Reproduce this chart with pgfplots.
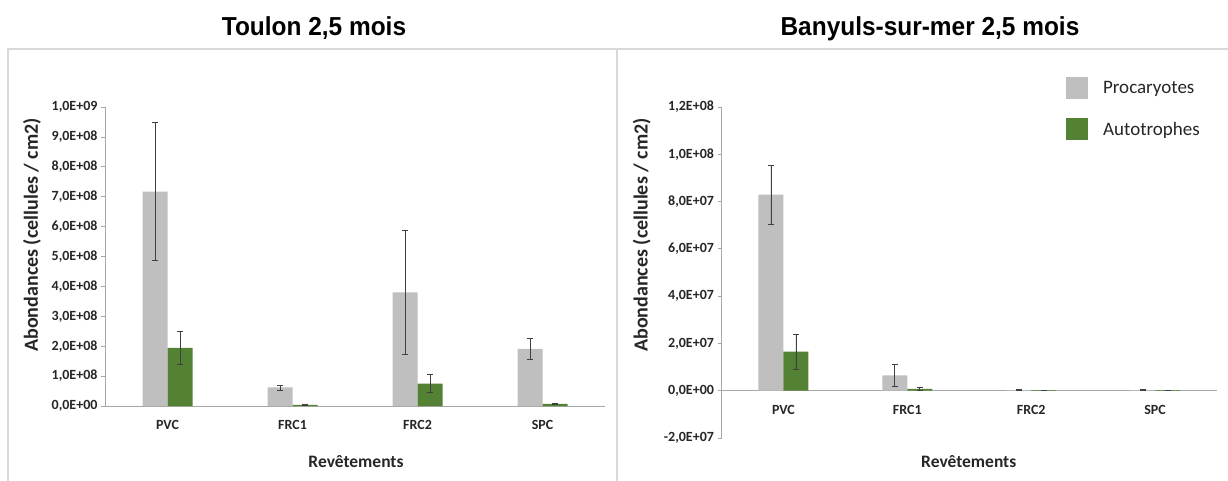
\documentclass[border=0pt]{standalone}
\usepackage{pgfplots}
\pgfplotsset{compat=1.18}
\usepackage{fontspec}
\setmainfont{Carlito}
\newfontfamily\titlefont{Liberation Sans}
\definecolor{procgray}{HTML}{BFBFBF}
\definecolor{autogreen}{HTML}{548235}
\definecolor{framegray}{HTML}{D9D9D9}
\definecolor{axgray}{HTML}{A6A6A6}
\begin{document}
\begin{tikzpicture}[x=1pt,y=1pt]
\useasboundingbox (0,0) rectangle (1228,480);
\draw[framegray, line width=1.5pt] (8,-5) -- (8,431) -- (617,431) -- (617,-5);
\draw[framegray, line width=1.5pt] (617,431) -- (1235,431);
\node[font=\titlefont\bfseries\fontsize{26}{30}\selectfont, xscale=0.94, transform shape, anchor=base] at (314,444) {Toulon 2,5 mois};
\node[font=\titlefont\bfseries\fontsize{26}{30}\selectfont, xscale=0.94, transform shape, anchor=base] at (930,444) {Banyuls-sur-mer 2,5 mois};
\pgfplotsset{
  mystyle/.style={
    scale only axis,
    ybar=0pt, bar width=25pt,
    xmin=-0.5, xmax=3.5,
    xtick={0,1,2,3}, xticklabels={PVC,FRC1,FRC2,SPC},
    axis y line*=left,
    axis line style={axgray, line width=0.8pt, -},
    x tick style={draw=none},
    y tick style={axgray, line width=0.8pt},
    major tick length=4pt, tick align=outside,
    tick label style={font=\bfseries\fontsize{14}{16}\selectfont, text=black!85},
    xticklabel style={yshift=-7pt},
    xlabel style={font=\bfseries\fontsize{17.5}{20}\selectfont, text=black!85},
    ylabel style={font=\bfseries\fontsize{20}{22}\selectfont, text=black!85},
    scaled y ticks=false,
    error bars/error bar style={black!75, line width=0.7pt},
    error bars/error mark options={rotate=90, mark size=3pt, black!75, line width=0.7pt},
    clip=false,
  }
}
\begin{axis}[mystyle,
  at={(105pt,74pt)}, anchor=south west,
  width=500pt, height=299pt,
  axis x line*=bottom,
  ymin=0, ymax=1e9,
  ytick={0,1e8,2e8,3e8,4e8,5e8,6e8,7e8,8e8,9e8,1e9},
  yticklabels={{0,0E+00},{1,0E+08},{2,0E+08},{3,0E+08},{4,0E+08},{5,0E+08},{6,0E+08},{7,0E+08},{8,0E+08},{9,0E+08},{1,0E+09}},
  xlabel={Revêtements},
  ylabel={Abondances (cellules / cm2)},
  xlabel style={at={(axis description cs:0.502,-0.187)}, anchor=center},
  ylabel style={at={(axis description cs:-0.146,0.572)}, anchor=center, rotate=0},
]
\addplot[fill=procgray, draw=none, error bars/.cd, y dir=both, y explicit]
  coordinates {(0,7.17e8) +- (0,2.3e8) (1,0.62e8) +- (0,0.08e8) (2,3.8e8) +- (0,2.07e8) (3,1.91e8) +- (0,0.35e8)};
\addplot[fill=autogreen, draw=none, error bars/.cd, y dir=both, y explicit]
  coordinates {(0,1.94e8) +- (0,0.55e8) (1,0.04e8) +- (0,0.01e8) (2,0.75e8) +- (0,0.3e8) (3,0.07e8) +- (0,0.012e8)};
\end{axis}
\begin{axis}[mystyle,
  at={(721.5pt,42pt)}, anchor=south west,
  width=495.5pt, height=331pt,
  axis x line*=middle,
  ymin=-2e7, ymax=1.2e8,
  ytick={-2e7,0,2e7,4e7,6e7,8e7,1e8,1.2e8},
  yticklabels={{-2,0E+07},{0,0E+00},{2,0E+07},{4,0E+07},{6,0E+07},{8,0E+07},{1,0E+08},{1,2E+08}},
  xlabel={Revêtements},
  ylabel={Abondances (cellules / cm2)},
  xlabel style={at={(axis description cs:0.499,-0.0725)}, anchor=center},
  ylabel style={at={(axis description cs:-0.161,0.613)}, anchor=center, rotate=0},
  legend style={at={(axis description cs:0.695,1.09)}, anchor=north west, draw=none, fill=none,
    inner sep=0pt, row sep=19pt, column sep=13pt,
    font=\fontsize{19}{21}\selectfont, text=black!85,
    cells={anchor=west}},
  legend image code/.code={\fill[#1] (0pt,-11pt) rectangle (22pt,11pt);},
]
\addplot[fill=procgray, draw=none, error bars/.cd, y dir=both, y explicit]
  coordinates {(0,8.29e7) +- (0,1.25e7) (1,0.65e7) +- (0,0.46e7) (2,3e5) +- (0,1.5e5) (3,3e5) +- (0,1.5e5)};
\addlegendentry{Procaryotes}
\addplot[fill=autogreen, draw=none, error bars/.cd, y dir=both, y explicit]
  coordinates {(0,1.65e7) +- (0,0.75e7) (1,0.08e7) +- (0,0.06e7) (2,3e5) +- (0,0) (3,3e5) +- (0,0)};
\addlegendentry{Autotrophes}
\end{axis}
\end{tikzpicture}
\end{document}
